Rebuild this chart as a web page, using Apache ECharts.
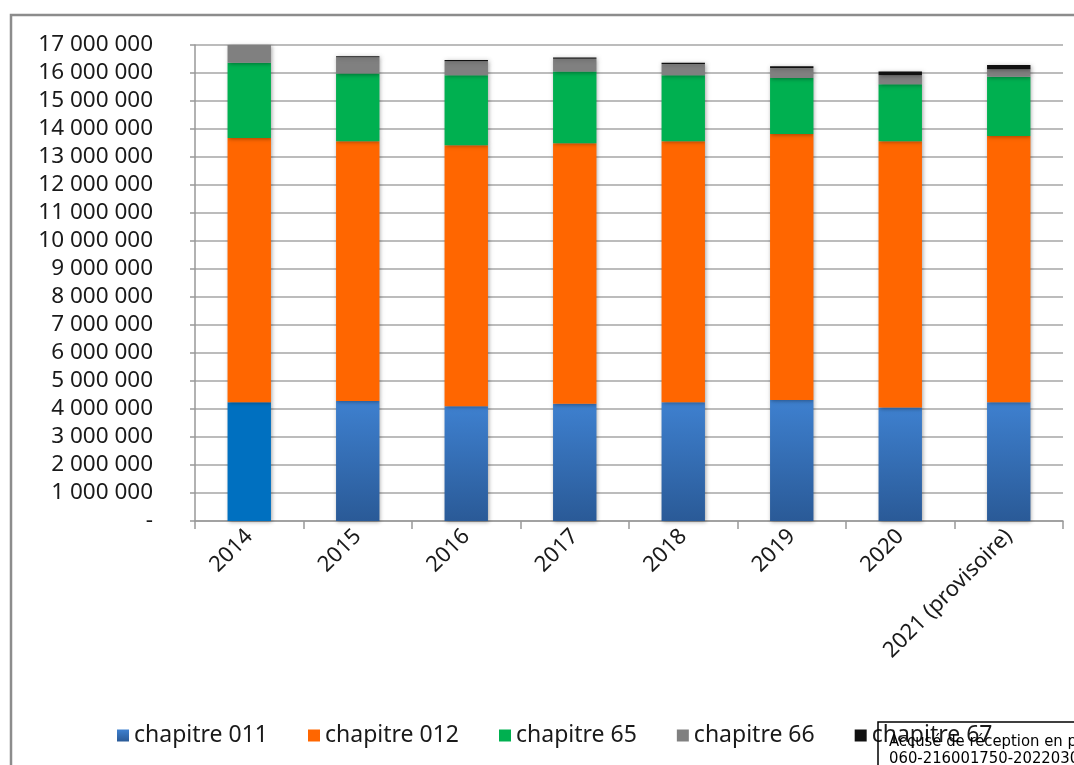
<!DOCTYPE html>
<html>
<head>
<meta charset="utf-8">
<script src="https://cdn.jsdelivr.net/npm/echarts@6/dist/echarts.min.js"></script>
<style>
  html, body { margin: 0; padding: 0; background: #fff; }
  #chart { width: 1074px; height: 765px; }
</style>
</head>
<body>
<div id="chart"></div>
<script>
// Dépenses de fonctionnement par chapitre (en euros)
const years = ['2014', '2015', '2016', '2017', '2018', '2019', '2020', '2021 (provisoire)'];
const chapitre011 = [4240000, 4290000, 4100000, 4190000, 4240000, 4320000, 4050000, 4240000];
const chapitre012 = [9440000, 9270000, 9320000, 9300000, 9320000, 9500000, 9510000, 9510000];
const chapitre65  = [2690000, 2420000, 2500000, 2560000, 2360000, 2000000, 2040000, 2120000];
const chapitre66  = [630000, 580000, 500000, 460000, 400000, 360000, 320000, 260000];
const chapitre67  = [12000, 40000, 40000, 45000, 50000, 60000, 130000, 160000];

const FONT = "'Liberation Sans Narrow', 'DejaVu Sans Condensed', 'Noto Sans', sans-serif";
const TEXT_FONT = "'Noto Sans', 'Liberation Sans', sans-serif";

function fmt(v) {
  if (v === 0) return '-';
  return String(Math.round(v)).replace(/\B(?=(\d{3})+(?!\d))/g, ' ');
}

const blueGrad = new echarts.graphic.LinearGradient(0, 0, 0, 1, [
  { offset: 0, color: '#3E80CF' },
  { offset: 1, color: '#2A5A97' }
]);

const shadow = { shadowColor: 'rgba(0,0,0,0.35)', shadowBlur: 4, shadowOffsetX: 1, shadowOffsetY: 1 };

function series(name, values, color) {
  return {
    name: name,
    type: 'bar',
    stack: 'total',
    barWidth: '40%',
    itemStyle: Object.assign({ color: color }, shadow),
    emphasis: { disabled: true },
    data: values
  };
}

const s011 = series('chapitre 011', chapitre011.map((v, i) =>
  i === 0 ? { value: v, itemStyle: { color: '#0070C0' } } : v), blueGrad);

const chart = echarts.init(document.getElementById('chart'), null, { renderer: 'canvas' });
chart.setOption({
  animation: false,
  backgroundColor: '#fff',
  grid: { left: 195, right: 11, top: 45, bottom: 244, containLabel: false },
  legend: {
    left: 112,
    top: 719,
    itemWidth: 12,
    itemHeight: 12,
    itemGap: 40,
    icon: 'rect',
    textStyle: { fontFamily: TEXT_FONT, fontSize: 23, color: '#1a1a1a' },
    data: ['chapitre 011', 'chapitre 012', 'chapitre 65', 'chapitre 66', 'chapitre 67']
  },
  xAxis: {
    type: 'category',
    data: years,
    axisLine: { lineStyle: { color: '#999', width: 1.5 } },
    axisTick: { show: true, length: 8, lineStyle: { color: '#999', width: 1.5 } },
    axisLabel: {
      rotate: 45, margin: 12, interval: 0,
      fontFamily: TEXT_FONT, fontSize: 22, color: '#1a1a1a'
    }
  },
  yAxis: {
    type: 'value',
    min: 0, max: 17000000, interval: 1000000,
    axisLine: { show: true, lineStyle: { color: '#999', width: 1.5 } },
    axisTick: { show: true, length: 5, lineStyle: { color: '#999', width: 1.5 } },
    splitLine: { lineStyle: { color: '#a6a6a6', width: 1.5 } },
    axisLabel: {
      margin: 42, formatter: fmt,
      fontFamily: TEXT_FONT, fontSize: 22.5, color: '#1a1a1a'
    }
  },
  series: [
    s011,
    series('chapitre 012', chapitre012, '#FF6600'),
    series('chapitre 65', chapitre65, '#00B050'),
    series('chapitre 66', chapitre66, '#808080'),
    series('chapitre 67', chapitre67, '#111111')
  ],
  graphic: [
    {
      type: 'rect', silent: true, z: 100,
      shape: { x: 11, y: 15, width: 1200, height: 900 },
      style: { fill: 'none', stroke: '#8c8c8c', lineWidth: 2.5 }
    },
    {
      type: 'rect', silent: true, z: 100,
      shape: { x: 878, y: 722, width: 300, height: 80 },
      style: { fill: 'none', stroke: '#000', lineWidth: 1.5 }
    },
    {
      type: 'text', silent: true, z: 101, left: 889, top: 733,
      style: { text: 'Accusé de réception en préfecture', font: "16.5px " + FONT, fill: '#000' }
    },
    {
      type: 'text', silent: true, z: 101, left: 889, top: 750,
      style: { text: '060-216001750-20220301-DEL', font: "16.5px " + FONT, fill: '#000' }
    }
  ]
});
</script>
</body>
</html>
